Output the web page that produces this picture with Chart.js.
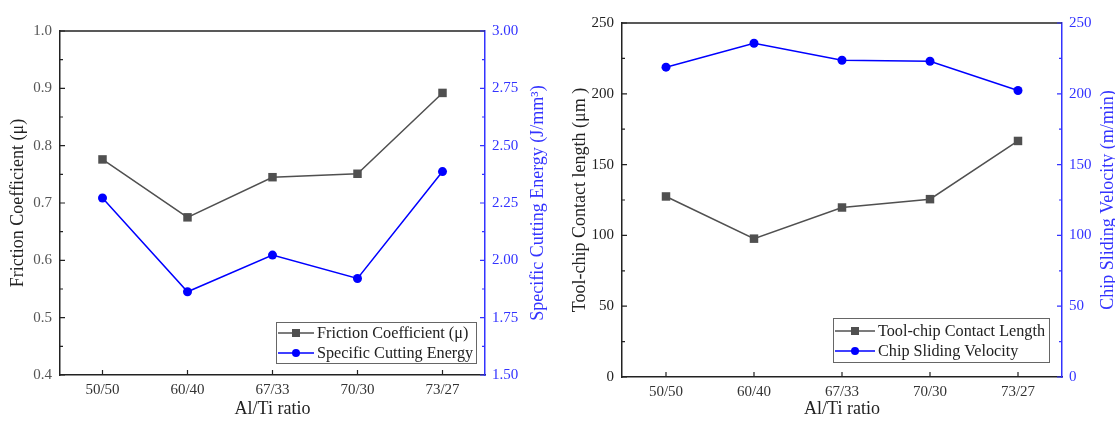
<!DOCTYPE html>
<html>
<head>
<meta charset="utf-8">
<script src="https://cdn.jsdelivr.net/npm/chart.js@4"></script>
<style>
  body { margin: 0; background: #fff; width: 1115px; height: 421px; overflow: hidden; position: relative; }
  .box { position: absolute; top: 0; width: 555px; height: 421px; }
</style>
</head>
<body>
<div class="box" style="left:0"><canvas id="leftChart" width="555" height="421"></canvas></div>
<div class="box" style="left:560px"><canvas id="rightChart" width="555" height="421"></canvas></div>
<script>
// data
const ratios = ['50/50', '60/40', '67/33', '70/30', '73/27'];
const frictionCoef = [0.776, 0.675, 0.745, 0.751, 0.892];
const cuttingEnergy = [2.272, 1.863, 2.023, 1.921, 2.387];
const contactLength = [127.5, 97.7, 119.7, 125.6, 166.7];
const slidingVelocity = [218.8, 235.7, 223.7, 223.0, 202.3];

const SERIF = '"Liberation Serif", "Times New Roman", serif';
const GRAY = '#505050';
const BLUE = '#0000ff';
const AXIS_BLUE = '#3333ff';

// top frame, inward ticks, boxed legend and the right-hand title
const extras = {
  id: 'extras',
  afterDraw(chart, args, opts) {
    const ctx = chart.ctx;
    const a = chart.chartArea;
    const sx = chart.scales.x, sy = chart.scales.y, sy1 = chart.scales.y1;
    ctx.save();

    ctx.lineWidth = 1.5;
    ctx.strokeStyle = '#222';
    ctx.beginPath();
    ctx.moveTo(a.left, a.top);
    ctx.lineTo(a.right, a.top);
    ctx.stroke();

    ctx.lineWidth = 1.2;
    ctx.beginPath();
    for (let i = 0; i < sx.ticks.length; i++) {
      const px = sx.getPixelForTick(i);
      ctx.moveTo(px, a.bottom);
      ctx.lineTo(px, a.bottom - 5);
    }
    ctx.stroke();

    function yTicks(scale, x0, dir, color) {
      ctx.strokeStyle = color;
      ctx.beginPath();
      for (let i = 0; i < scale.ticks.length; i++) {
        const py = scale.getPixelForTick(i);
        ctx.moveTo(x0, py);
        ctx.lineTo(x0 + dir * 5, py);
        if (i < scale.ticks.length - 1) {
          const mid = (py + scale.getPixelForTick(i + 1)) / 2;
          ctx.moveTo(x0, mid);
          ctx.lineTo(x0 + dir * 3, mid);
        }
      }
      ctx.stroke();
    }
    yTicks(sy, a.left, 1, '#222');
    yTicks(sy1, a.right, -1, AXIS_BLUE);

    // legend
    const L = opts.legend;
    ctx.fillStyle = '#fff';
    ctx.fillRect(L.x, L.y, L.w, L.h);
    ctx.strokeStyle = '#666';
    ctx.lineWidth = 1;
    ctx.strokeRect(L.x + 0.5, L.y + 0.5, L.w, L.h);
    ctx.font = '16.2px ' + SERIF;
    ctx.textBaseline = 'middle';
    chart.data.datasets.forEach((ds, i) => {
      const ry = L.y + L.row0 + i * L.rowGap;
      ctx.strokeStyle = ds.borderColor;
      ctx.lineWidth = 1.5;
      ctx.beginPath();
      ctx.moveTo(L.x + 2, ry);
      ctx.lineTo(L.x + L.lineLen, ry);
      ctx.stroke();
      const mx = L.x + 2 + (L.lineLen - 2) / 2;
      ctx.fillStyle = ds.backgroundColor;
      if (ds.pointStyle === 'rect') {
        ctx.fillRect(mx - 4, ry - 4, 8, 8);
      } else {
        ctx.beginPath();
        ctx.arc(mx, ry, 4, 0, Math.PI * 2);
        ctx.fill();
      }
      ctx.fillStyle = '#222';
      ctx.textAlign = 'left';
      ctx.fillText(ds.label, L.x + L.lineLen + 3, ry + 1);
    });

    // right axis title, reading bottom-to-top like the left one
    ctx.fillStyle = AXIS_BLUE;
    ctx.font = '18px ' + SERIF;
    ctx.textAlign = 'center';
    ctx.textBaseline = 'middle';
    ctx.translate(opts.rightTitleX, (a.top + a.bottom) / 2);
    ctx.rotate(-Math.PI / 2);
    ctx.fillText(opts.rightTitle, 0, 0);
    ctx.restore();
  }
};

function makeChart(id, cfg) {
  const tickFont = { family: SERIF, size: 15 };
  const titleFont = { family: SERIF, size: 18 };
  return new Chart(document.getElementById(id), {
    type: 'line',
    data: {
      labels: ratios,
      datasets: [{
        label: cfg.label1,
        data: cfg.data1,
        yAxisID: 'y',
        borderColor: GRAY,
        backgroundColor: GRAY,
        borderWidth: 1.5,
        pointStyle: 'rect',
        pointRadius: 6,
        pointBorderWidth: 0,
        tension: 0
      }, {
        label: cfg.label2,
        data: cfg.data2,
        yAxisID: 'y1',
        borderColor: BLUE,
        backgroundColor: BLUE,
        borderWidth: 1.5,
        pointStyle: 'circle',
        pointRadius: 4.5,
        pointBorderWidth: 0,
        tension: 0
      }]
    },
    options: {
      responsive: false,
      animation: false,
      layout: { padding: { top: cfg.top, left: 0, right: 0, bottom: 0 } },
      plugins: {
        legend: { display: false },
        tooltip: { enabled: false },
        extras: { legend: cfg.legend, rightTitle: cfg.title2, rightTitleX: cfg.title2X }
      },
      scales: {
        x: {
          type: 'category',
          offset: true,
          grid: { display: false, drawTicks: false },
          border: { color: '#222', width: 1.5 },
          ticks: { font: tickFont, color: '#333', padding: 6 },
          title: { display: true, text: 'Al/Ti ratio', font: titleFont, color: '#222', padding: { top: 0, bottom: 1 } },
          afterFit: s => { s.height = cfg.bottomH; }
        },
        y: {
          position: 'left',
          min: cfg.yMin, max: cfg.yMax,
          grid: { display: false, drawTicks: false },
          border: { color: '#222', width: 1.5 },
          ticks: { stepSize: cfg.yStep, font: tickFont, color: cfg.tickColor, padding: 8,
                   callback: v => v.toFixed(cfg.yDec) },
          title: { display: true, text: cfg.title1, font: titleFont, color: '#222', padding: { top: cfg.titlePad, bottom: 0 } },
          afterFit: s => { s.width = cfg.leftW; }
        },
        y1: {
          position: 'right',
          min: cfg.y1Min, max: cfg.y1Max,
          grid: { display: false, drawTicks: false },
          border: { color: AXIS_BLUE, width: 1.5 },
          ticks: { stepSize: cfg.y1Step, font: tickFont, color: AXIS_BLUE, padding: 7,
                   callback: v => v.toFixed(cfg.y1Dec) },
          afterFit: s => { s.width = cfg.rightW; }
        }
      }
    },
    plugins: [extras]
  });
}

makeChart('leftChart', {
  label1: 'Friction Coefficient (\u03bc)', data1: frictionCoef,
  label2: 'Specific Cutting Energy', data2: cuttingEnergy,
  title1: 'Friction Coefficient (\u03bc)',
  title2: 'Specific Cutting Energy (J/mm\u00b3)', title2X: 538,
  yMin: 0.4, yMax: 1.0, yStep: 0.1, yDec: 1,
  y1Min: 1.5, y1Max: 3.0, y1Step: 0.25, y1Dec: 2,
  tickColor: '#555', titlePad: 7,
  top: 31, bottomH: 46, leftW: 60, rightW: 70,
  legend: { x: 276, y: 322, w: 200, h: 41, row0: 11, rowGap: 20, lineLen: 38 }
});

makeChart('rightChart', {
  label1: 'Tool-chip Contact Length', data1: contactLength,
  label2: 'Chip Sliding Velocity', data2: slidingVelocity,
  title1: 'Tool-chip Contact length (\u03bcm )',
  title2: 'Chip Sliding Velocity (m/min)', title2X: 548,
  yMin: 0, yMax: 250, yStep: 50, yDec: 0,
  y1Min: 0, y1Max: 250, y1Step: 50, y1Dec: 0,
  tickColor: '#222', titlePad: 9,
  top: 23, bottomH: 44, leftW: 62, rightW: 53,
  legend: { x: 273, y: 318, w: 216, h: 44, row0: 13, rowGap: 20, lineLen: 42 }
});
</script>
</body>
</html>
